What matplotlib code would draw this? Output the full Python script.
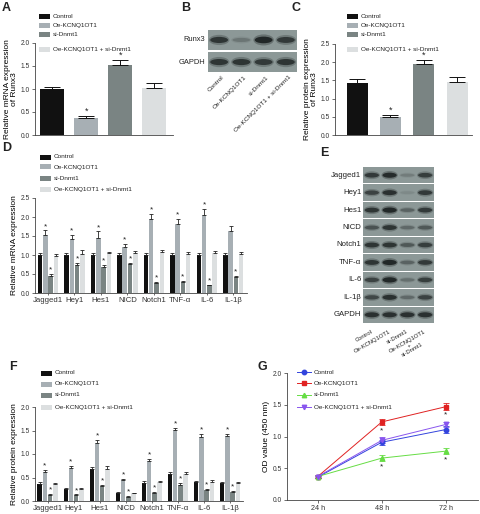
import numpy as np
import matplotlib.pyplot as plt
from matplotlib.patches import Rectangle, Ellipse
from matplotlib.lines import Line2D

plt.rcParams['font.family'] = ['Liberation Sans', 'DejaVu Sans']
plt.rcParams['axes.linewidth'] = 0.6
plt.rcParams['text.color'] = '#222222'

W, H = 480, 514

groups = ['Control', 'Oe-KCNQ1OT1', 'si-Dnmt1', 'Oe-KCNQ1OT1 + si-Dnmt1']
bar_colors = ['#111111', '#a7afb4', '#7a8483', '#dcdfe0']

# A: Runx3 mRNA
runx3_mrna = [1.00, 0.37, 1.52, 1.03]
runx3_mrna_err = [0.05, 0.04, 0.11, 0.10]
runx3_mrna_star = [False, True, True, False]

# C: Runx3 protein
runx3_prot = [1.43, 0.50, 1.95, 1.45]
runx3_prot_err = [0.12, 0.05, 0.12, 0.13]
runx3_prot_star = [False, True, True, False]

# B: blot band strength (0..1)
blot_b_rows = ['Runx3', 'GAPDH']
runx3_bands = [0.85, 0.25, 1.0, 0.8]
gapdh_b_bands = [0.85, 0.85, 0.8, 0.85]

genes = ['Jagged1', 'Hey1', 'Hes1', 'NICD', 'Notch1', 'TNF-α', 'IL-6', 'IL-1β']

# D: mRNA
mrna_ctrl = [1.00, 1.00, 1.00, 1.00, 1.00, 1.00, 1.00, 1.00]
mrna_oe = [1.52, 1.42, 1.46, 1.21, 1.94, 1.81, 2.06, 1.63]
mrna_si = [0.46, 0.75, 0.68, 0.76, 0.26, 0.29, 0.20, 0.43]
mrna_combo = [0.97, 1.03, 1.04, 1.04, 1.07, 1.02, 1.06, 1.03]
mrna_ctrl_err = [0.04, 0.05, 0.04, 0.04, 0.05, 0.04, 0.04, 0.04]
mrna_oe_err = [0.13, 0.11, 0.16, 0.08, 0.15, 0.15, 0.16, 0.14]
mrna_si_err = [0.04, 0.05, 0.06, 0.04, 0.03, 0.03, 0.02, 0.03]
mrna_combo_err = [0.06, 0.09, 0.05, 0.06, 0.05, 0.07, 0.05, 0.06]
mrna_oe_star = [True, True, True, True, True, True, True, False]
mrna_si_star = [True] * 8

# F: protein
prot_ctrl = [0.36, 0.25, 0.68, 0.16, 0.39, 0.57, 0.40, 0.38]
prot_oe = [0.62, 0.71, 1.24, 0.45, 0.85, 1.51, 1.37, 1.39]
prot_si = [0.13, 0.12, 0.32, 0.08, 0.18, 0.35, 0.23, 0.19]
prot_combo = [0.36, 0.25, 0.69, 0.16, 0.40, 0.57, 0.41, 0.38]
prot_ctrl_err = [0.04, 0.03, 0.04, 0.03, 0.03, 0.04, 0.03, 0.03]
prot_oe_err = [0.04, 0.03, 0.06, 0.02, 0.04, 0.04, 0.05, 0.03]
prot_si_err = [0.02, 0.02, 0.03, 0.02, 0.02, 0.03, 0.02, 0.02]
prot_combo_err = [0.02, 0.02, 0.05, 0.01, 0.02, 0.04, 0.03, 0.02]
prot_oe_star = [True] * 8
prot_si_star = [True] * 8

# E: blot band strength
blot_e_rows = genes + ['GAPDH']
blot_e_bands = [
    [0.80, 0.95, 0.20, 0.75],
    [0.70, 0.90, 0.10, 0.80],
    [0.85, 1.00, 0.40, 0.80],
    [0.55, 0.85, 0.35, 0.50],
    [0.85, 0.85, 0.50, 0.75],
    [0.85, 1.00, 0.40, 0.80],
    [0.70, 1.00, 0.30, 0.75],
    [0.65, 0.90, 0.35, 0.70],
    [0.90, 0.90, 0.90, 0.90],
]
blot_e_lanes = ['Control', 'Oe-KCNQ1OT1', 'si-Dnmt1', 'Oe-KCNQ1OT1\n+\nsi-Dnmt1']

# G: CCK-8
times = ['24 h', '48 h', '72 h']
od_ctrl = [0.36, 0.91, 1.11]
od_oe = [0.37, 1.23, 1.47]
od_si = [0.37, 0.66, 0.77]
od_combo = [0.37, 0.94, 1.19]
od_ctrl_err = [0.02, 0.04, 0.05]
od_oe_err = [0.02, 0.05, 0.05]
od_si_err = [0.02, 0.05, 0.05]
od_combo_err = [0.02, 0.05, 0.04]
od_oe_star = [False, True, True]
od_si_star = [False, True, True]
line_colors = ['#3344dd', '#e02222', '#66dd44', '#8855ee']
line_markers = ['o', 's', '^', 'v']

fig = plt.figure(figsize=(W / 100, H / 100), dpi=100)


def px_axes(x0, y0, x1, y1):
    return fig.add_axes([x0 / W, 1 - y1 / H, (x1 - x0) / W, (y1 - y0) / H])


def style(ax):
    for s in ['top', 'right']:
        ax.spines[s].set_visible(False)
    for s in ['left', 'bottom']:
        ax.spines[s].set_color('#444444')
    ax.tick_params(labelsize=4.8, length=2, width=0.5, pad=1.5, colors='#333333')


def box_legend(x, ys):
    for y, c, lab in zip(ys, bar_colors, groups):
        fig.add_artist(Rectangle((x / W, 1 - (y + 2.5) / H), 11 / W, 5 / H,
                                 transform=fig.transFigure, color=c, lw=0))
        fig.text((x + 14) / W, 1 - y / H, lab, fontsize=4.6, va='center')


def panel_letter(x, y, s):
    fig.text(x / W, 1 - y / H, s, fontsize=9, fontweight='bold', va='top', ha='left')


def simple_bars(ax, vals, errs, stars, ymax, step, width):
    x = np.arange(len(vals))
    ax.bar(x, vals, width, color=bar_colors, lw=0)
    ax.errorbar(x, vals, yerr=[np.zeros(len(vals)), errs], fmt='none',
                ecolor='#111111', elinewidth=0.7, capsize=6, capthick=0.7)
    for xi, v, e, s in zip(x, vals, errs, stars):
        if s:
            ax.text(xi, v + e + 0.01, '*', ha='center', va='bottom', fontsize=6.5)
    ax.set_ylim(0, ymax)
    ax.set_yticks(np.arange(0, ymax + 0.01, step))
    ax.set_yticklabels([f'{t:.1f}' for t in np.arange(0, ymax + 0.01, step)])
    ax.set_xticks([])
    style(ax)


def group_bars(ax, series, errs, stars, ymax, step):
    x = np.arange(len(genes))
    for k, (vals, err, c) in enumerate(zip(series, errs, bar_colors)):
        xs = x + (k - 1.5) * 0.2
        ax.bar(xs, vals, 0.17, color=c, lw=0)
        ax.errorbar(xs, vals, yerr=[np.zeros(len(vals)), err], fmt='none',
                    ecolor='#222222', elinewidth=0.6, capsize=1.6, capthick=0.6)
        if stars[k] is not None:
            for xi, v, e, s in zip(xs, vals, err, stars[k]):
                if s:
                    ax.text(xi, v + e + 0.01, '*', ha='center', va='bottom', fontsize=6)
    ax.set_ylim(0, ymax)
    ticks = np.arange(0, ymax + 0.01, step)
    ax.set_yticks(ticks)
    ax.set_yticklabels([f'{t:.1f}' for t in ticks])
    ax.set_xticks(x)
    ax.set_xticklabels(genes, fontsize=5.6)
    ax.set_xlim(-0.49, 7.52)
    style(ax)
    ax.tick_params(axis='x', labelsize=5.6, length=1.5)


blot_bg = '#8c9897'
blot_band = '#161b1b'


def draw_blot(ax, rows, gap):
    n = len(rows)
    for r, row in enumerate(rows):
        ax.add_patch(Rectangle((0, r), 4, 1 - gap, color=blot_bg, lw=0))
        cy = r + (1 - gap) / 2
        for l, v in enumerate(row):
            ax.add_patch(Ellipse((l + 0.5, cy), 0.92, 0.5 * (0.5 + 0.5 * v),
                                 color=blot_band, alpha=0.3 * v, lw=0))
            ax.add_patch(Ellipse((l + 0.5, cy), 0.8, 0.3 * (0.5 + 0.5 * v),
                                 color=blot_band, alpha=0.85 * v, lw=0))
    ax.set_xlim(0, 4)
    ax.set_ylim(n - gap, 0)
    ax.axis('off')


# ---- A
axA = px_axes(35, 43, 173, 135)
simple_bars(axA, runx3_mrna, runx3_mrna_err, runx3_mrna_star, 2.0, 0.5, 0.7)
axA.set_xlim(-0.5, 3.55)
axA.set_ylabel('Relative mRNA expression\nof Runx3', fontsize=6, labelpad=2, linespacing=1.1)
box_legend(39, [16, 25, 34, 49])
panel_letter(2, 2, 'A')

# ---- B
axB = px_axes(208, 30, 297, 72)
gapB = 0.1
draw_blot(axB, [runx3_bands, gapdh_b_bands], gapB)
for r, lab in enumerate(blot_b_rows):
    axB.text(-0.14, r + (1 - gapB) / 2, lab, ha='right', va='center', fontsize=5.4)
for l, lab in enumerate(groups):
    axB.text(l + 0.6, 2 - gapB + 0.12, lab, rotation=45, rotation_mode='anchor',
             ha='right', va='top', fontsize=4.6)
panel_letter(181, 2, 'B')

# ---- C
axC = px_axes(335, 44, 472, 135)
simple_bars(axC, runx3_prot, runx3_prot_err, runx3_prot_star, 2.5, 0.5, 0.63)
axC.set_xlim(-0.66, 3.45)
axC.set_ylabel('Relative protein expression\nof Runx3', fontsize=6, labelpad=2, linespacing=1.1)
box_legend(347, [16, 25, 34, 49])
panel_letter(291, 2, 'C')

# ---- D
axD = px_axes(35, 198, 247, 293)
group_bars(axD, [mrna_ctrl, mrna_oe, mrna_si, mrna_combo],
           [mrna_ctrl_err, mrna_oe_err, mrna_si_err, mrna_combo_err],
           [None, mrna_oe_star, mrna_si_star, None], 2.5, 0.5)
axD.set_ylabel('Relative mRNA expression', fontsize=6, labelpad=2)
box_legend(40, [157, 167, 178, 189])
panel_letter(2, 142, 'D')

# ---- E
axE = px_axes(363, 167, 434, 323)
gapE = 0.06
draw_blot(axE, blot_e_bands, gapE)
for r, lab in enumerate(blot_e_rows):
    axE.text(-0.1, r + (1 - gapE) / 2, lab, ha='right', va='center', fontsize=5.6)
for l, lab in enumerate(blot_e_lanes):
    axE.text(l + 0.45, len(blot_e_rows) - gapE + 0.35, lab, rotation=30,
             rotation_mode='anchor', ha='right', va='top', fontsize=4.2,
             multialignment='center', linespacing=0.9)
panel_letter(320, 147, 'E')

# ---- F
axF = px_axes(35, 407, 243, 501)
group_bars(axF, [prot_ctrl, prot_oe, prot_si, prot_combo],
           [prot_ctrl_err, prot_oe_err, prot_si_err, prot_combo_err],
           [None, prot_oe_star, prot_si_star, None], 2.0, 0.5)
axF.set_xlim(-0.48, 7.5)
axF.set_ylabel('Relative protein expression', fontsize=6, labelpad=2)
box_legend(41, [373, 384, 395, 407])
panel_letter(9, 361, 'F')

# ---- G
axG = px_axes(287, 373, 478, 500)
xg = np.arange(len(times))
series = [od_ctrl, od_oe, od_si, od_combo]
series_err = [od_ctrl_err, od_oe_err, od_si_err, od_combo_err]
for vals, err, c, m in zip(series, series_err, line_colors, line_markers):
    axG.errorbar(xg, vals, yerr=err, color=c, marker=m, ms=3.2, lw=0.7,
                 elinewidth=0.6, capsize=2, capthick=0.6)
for vals, err, st in [(od_oe, od_oe_err, od_oe_star), (od_si, od_si_err, od_si_star)]:
    for xi, v, e, s in zip(xg, vals, err, st):
        if s:
            axG.text(xi, v - e - 0.03, '*', ha='center', va='top', fontsize=6)
axG.set_xlim(-0.48, 2.5)
axG.set_ylim(0, 2.0)
axG.set_yticks([0, 0.5, 1.0, 1.5, 2.0])
axG.set_yticklabels(['0.0', '0.5', '1.0', '1.5', '2.0'])
axG.set_xticks(xg)
axG.set_xticklabels(times)
style(axG)
axG.tick_params(axis='x', labelsize=5.2)
axG.set_ylabel('OD value (450 nm)', fontsize=6, labelpad=2)
for y, c, m, lab in zip([372, 383, 395, 407], line_colors, line_markers, groups):
    fig.add_artist(Line2D([297 / W, 311 / W], [1 - y / H, 1 - y / H], color=c, lw=0.7,
                          transform=fig.transFigure))
    fig.add_artist(Line2D([304 / W], [1 - y / H], color=c, marker=m, ms=3.2,
                          transform=fig.transFigure))
    fig.text(314 / W, 1 - y / H, lab, fontsize=4.6, va='center')
panel_letter(257, 361, 'G')

fig.savefig('out.png', dpi=100)
